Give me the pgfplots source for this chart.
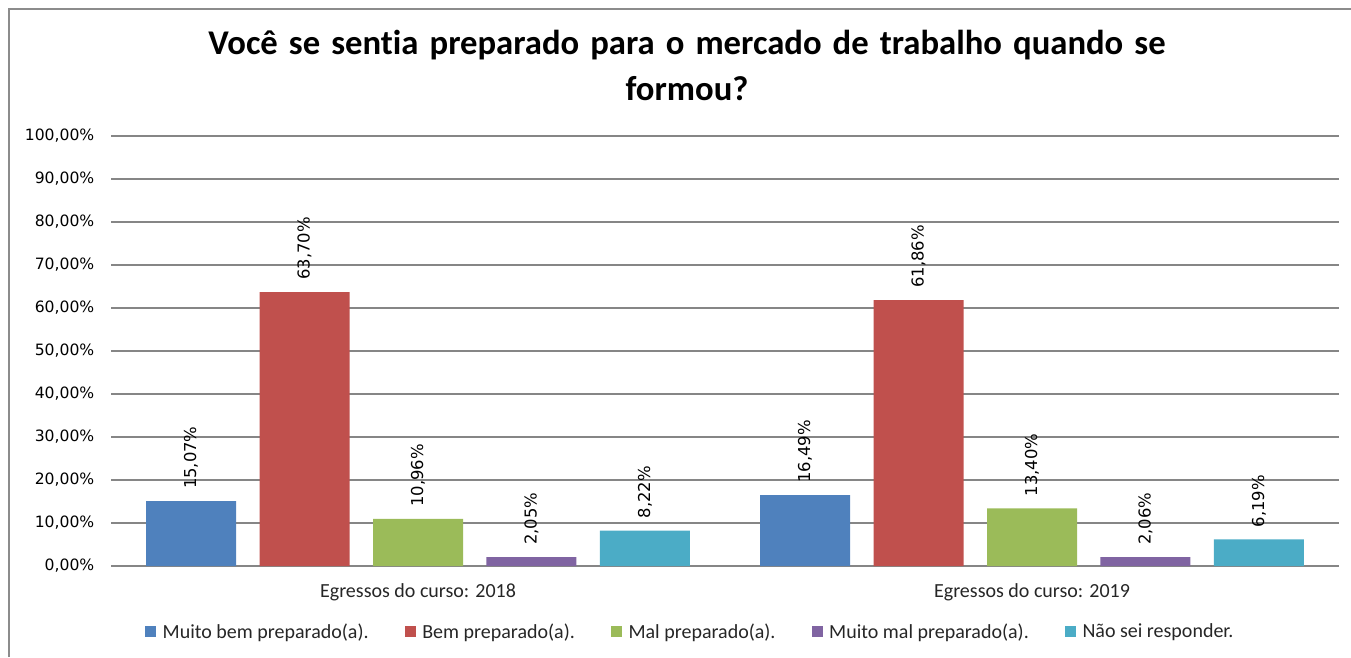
\documentclass[border=0pt]{standalone}
\usepackage{fontspec}
\setmainfont{Carlito}[Ligatures={NoCommon}]
\newfontfamily\dejavu{DejaVu Sans}
\usepackage{pgfplots}
\pgfplotsset{compat=1.18}
\definecolor{cA}{HTML}{4F81BD}
\definecolor{cB}{HTML}{C0504D}
\definecolor{cC}{HTML}{9BBB59}
\definecolor{cD}{HTML}{8064A2}
\definecolor{cE}{HTML}{4BACC6}
\definecolor{gridc}{HTML}{868686}
\definecolor{framec}{HTML}{8C8C8C}
\definecolor{txt}{HTML}{262626}
\newcommand{\titlespace}{\spaceskip 8.3pt\relax}
\begin{document}
\begin{tikzpicture}
\useasboundingbox (0pt,0pt) rectangle (1013.25pt,-492.75pt);
\draw[framec, line width=1.5pt] (6.75pt,-492.75pt) -- (6.75pt,-7.1pt) -- (1013.25pt,-7.1pt);
\node[anchor=base, inner sep=0pt, font=\bfseries\fontsize{26}{30}\selectfont] at (515.25pt,-40.7pt) {\titlespace Você se sentia preparado para o mercado de trabalho quando se};
\node[anchor=base, inner sep=0pt, font=\bfseries\fontsize{26}{30}\selectfont] at (515.25pt,-75pt) {formou?};
\begin{axis}[
  at={(83.25pt,-424.5pt)}, anchor=south west,
  scale only axis, width=921pt, height=322.5pt,
  xmin=-0.5, xmax=1.5, ymin=0, ymax=100,
  ybar=17.6pt, bar width=67.5pt,
  axis line style={draw=none},
  major tick length=0pt,
  xtick={0,1},
  xticklabels={Egressos do curso: 2018, Egressos do curso: 2019},
  xticklabel style={font=\fontsize{15}{18}\selectfont, text=txt, yshift=-10pt},
  ytick={0,10,...,100},
  yticklabels={{0,00\%},{10,00\%},{20,00\%},{30,00\%},{40,00\%},{50,00\%},{60,00\%},{70,00\%},{80,00\%},{90,00\%},{100,00\%}},
  yticklabel style={font=\dejavu\fontsize{11.7}{13}\selectfont, text=black, xshift=-9pt},
  ymajorgrids,
  grid style={color=gridc, line width=1.1pt},
  point meta=explicit symbolic,
  nodes near coords,
  every node near coord/.append style={font=\dejavu\fontsize{12.3}{14}\selectfont, text=black, rotate=90, anchor=west, inner xsep=9pt},
  legend columns=5,
  legend style={at={(0.472,-0.153)}, anchor=center, draw=none, fill=none,
    font=\fontsize{15}{17}\selectfont, text=txt,
    /tikz/every odd column/.append style={column sep=3pt},
    /tikz/every even column/.append style={column sep=25pt}},
  legend image code/.code={\fill[#1] (0pt,-4.1pt) rectangle (8.25pt,4.1pt);},
]
\addplot[fill=cA, draw=none] coordinates {(0,15.07) [15,07\%] (1,16.49) [16,49\%]};
\addlegendentry{Muito bem preparado(a).}
\addplot[fill=cB, draw=none] coordinates {(0,63.70) [63,70\%] (1,61.86) [61,86\%]};
\addlegendentry{Bem preparado(a).}
\addplot[fill=cC, draw=none] coordinates {(0,10.96) [10,96\%] (1,13.40) [13,40\%]};
\addlegendentry{Mal preparado(a).}
\addplot[fill=cD, draw=none] coordinates {(0,2.05) [2,05\%] (1,2.06) [2,06\%]};
\addlegendentry{Muito mal preparado(a).}
\addplot[fill=cE, draw=none] coordinates {(0,8.22) [8,22\%] (1,6.19) [6,19\%]};
\addlegendentry{Não sei responder.}
\end{axis}
\end{tikzpicture}
\end{document}
